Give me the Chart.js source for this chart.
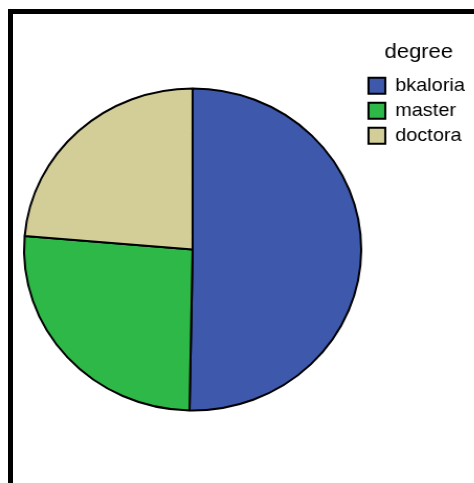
<!DOCTYPE html>
<html>
<head>
<meta charset="utf-8">
<script src="https://cdn.jsdelivr.net/npm/chart.js@4/dist/chart.umd.min.js"></script>
<style>
  html, body { margin: 0; padding: 0; background: #fff; overflow: hidden; width: 474px; height: 483px; }
  #wrap { position: absolute; left: 0; top: 0; width: 470px; height: 483px;
          transform: scaleX(1.047); transform-origin: 0 0; }
  #c { width: 470px; height: 483px; display: block; }
  #frame { position: absolute; left: 8px; top: 9px; width: 480px; height: 490px;
           border-left: 5px solid #000; border-top: 5px solid #000; box-sizing: border-box; }
</style>
</head>
<body>
<div id="wrap"><canvas id="c" width="470" height="483"></canvas></div>
<div id="frame"></div>
<script>
// Degree distribution
const categories = ['bkaloria', 'master', 'doctora'];
const counts = [85, 44, 40];
const sliceColors = ['#3e58ac', '#2eb848', '#d3ce97'];
const legendTitle = 'degree';

const FONT = "'Liberation Sans', Arial, Helvetica, sans-serif";

new Chart(document.getElementById('c'), {
  type: 'pie',
  data: {
    labels: categories,
    datasets: [{
      data: counts,
      backgroundColor: sliceColors,
      borderColor: '#000',
      borderWidth: 2,
      radius: 161
    }]
  },
  options: {
    responsive: false,
    animation: false,
    layout: { padding: { left: 22, top: 16, bottom: 0, right: 16 } },
    plugins: {
      tooltip: { enabled: false },
      legend: {
        position: 'right',
        align: 'start',
        title: {
          display: true,
          text: legendTitle,
          color: '#000',
          font: { family: FONT, size: 21 },
          padding: { top: 26, bottom: 3 }
        },
        labels: {
          color: '#000',
          font: { family: FONT, size: 19 },
          boxWidth: 16,
          boxHeight: 16,
          padding: 6
        }
      }
    }
  }
});
</script>
</body>
</html>
